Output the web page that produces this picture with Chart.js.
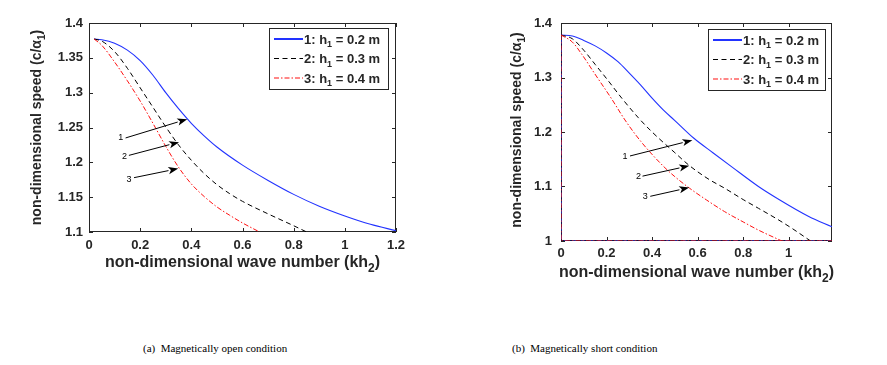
<!DOCTYPE html>
<html>
<head>
<meta charset="utf-8">
<script src="https://cdn.jsdelivr.net/npm/chart.js@4.4.0/dist/chart.umd.min.js"></script>
<style>
  body{margin:0;background:#fff;width:887px;height:365px;position:relative;overflow:hidden}
  canvas{position:absolute;top:0}
  #ca{left:0}
  #cb{left:440px}
  .cap{position:absolute;top:342px;font:11px "Liberation Serif","Times New Roman",serif;color:#000;white-space:pre}
</style>
</head>
<body>
<canvas id="ca" width="440" height="300"></canvas>
<canvas id="cb" width="447" height="300"></canvas>
<div class="cap" style="left:143px">(a)  Magnetically open condition</div>
<div class="cap" style="left:512px">(b)  Magnetically short condition</div>
<script>
// ---- data ----
const seriesLabels = ['1: h_1 = 0.2 m', '2: h_1 = 0.3 m', '3: h_1 = 0.4 m'];
const xTitle = 'non-dimensional wave number (kh_2)';
const yTitle = 'non-dimensional speed (c/α_1)';

// (a) magnetically open
const openX1 = [0.02,0.05,0.1,0.15,0.2,0.25,0.3,0.35,0.4,0.45,0.5,0.6,0.7,0.8,0.9,1.0,1.1,1.2];
const openY1 = [1.377,1.376,1.371,1.361,1.346,1.325,1.300,1.277,1.256,1.238,1.222,1.196,1.174,1.154,1.137,1.123,1.111,1.102];
const openX2 = [0.02,0.05,0.1,0.15,0.2,0.25,0.3,0.35,0.4,0.45,0.5,0.55,0.6,0.7,0.8,0.851];
const openY2 = [1.377,1.374,1.359,1.335,1.307,1.279,1.251,1.225,1.203,1.184,1.168,1.155,1.144,1.126,1.109,1.100];
const openX3 = [0.02,0.05,0.1,0.15,0.2,0.25,0.3,0.35,0.4,0.45,0.5,0.55,0.6,0.667];
const openY3 = [1.377,1.368,1.344,1.317,1.288,1.256,1.223,1.193,1.169,1.151,1.136,1.124,1.113,1.100];

// (b) magnetically short
const shortX1 = [0,0.05,0.1,0.15,0.2,0.25,0.3,0.35,0.4,0.45,0.5,0.585,0.667,0.75,0.867,0.95,1.088,1.19];
const shortY1 = [1.378,1.376,1.368,1.358,1.345,1.329,1.308,1.286,1.262,1.240,1.221,1.188,1.162,1.136,1.100,1.078,1.045,1.026];
const shortX2 = [0,0.05,0.1,0.15,0.2,0.267,0.34,0.4,0.5,0.565,0.65,0.718,0.8,0.867,0.95,1.015,1.096];
const shortY2 = [1.378,1.371,1.350,1.324,1.298,1.262,1.226,1.200,1.162,1.138,1.113,1.097,1.076,1.060,1.040,1.023,1.000];
const shortX3 = [0,0.05,0.089,0.148,0.222,0.281,0.35,0.45,0.5,0.564,0.64,0.718,0.8,0.867,0.97];
const shortY3 = [1.378,1.365,1.344,1.307,1.261,1.222,1.183,1.137,1.118,1.097,1.075,1.054,1.035,1.020,1.000];
// trivial branch running up the left edge and along c/α1 = 1
const shortEdgeX = [0, 0, 1.19];
const shortEdgeY = [1.378, 1.0, 1.0];

// axis ticks
const openXTicks = {min:0, max:1.2, step:0.2};
const openYTicks = {min:1.1, max:1.4, step:0.05};
const shortXTicks = {min:0, max:1.19, step:0.2};
const shortYTicks = {min:1.0, max:1.4, step:0.1};

// arrow annotations: label position, arrow tail, arrow tip (data units)
const openArrowLabels = [[0.124,1.236],[0.139,1.209],[0.156,1.175]];
const openArrowTails  = [[0.143,1.235],[0.156,1.210],[0.176,1.178]];
const openArrowTips   = [[0.384,1.262],[0.352,1.229],[0.349,1.191]];
const shortArrowLabels = [[0.281,1.155],[0.340,1.118],[0.370,1.081]];
const shortArrowTails  = [[0.303,1.156],[0.358,1.119],[0.392,1.082]];
const shortArrowTips   = [[0.577,1.185],[0.563,1.138],[0.563,1.098]];

// ---- styling ----
const FONT = '"Liberation Sans", Arial, Helvetica, sans-serif';
const AXIS_COL = '#262626';
const styles = [
  {color:'#2233ff', dash:[], width:1.1, legendWidth:2, order:3},
  {color:'#000000', dash:[5,3.5], width:1, legendWidth:1.1, order:2},
  {color:'#ff1111', dash:[5,2,1.5,2], width:1, legendWidth:1.1, order:1}
];

function pts(xs, ys){ return xs.map((x,i)=>({x:x, y:ys[i]})); }
function fmt(v){ return String(+v.toFixed(2)); }

// draws "a_b" style text with one-char subscripts
function richText(ctx, str, x, y, size, align){
  const parts = []; let buf = '';
  for(let i=0;i<str.length;i++){
    if(str[i]==='_'){ if(buf) parts.push({t:buf}); buf=''; parts.push({t:str[i+1], sub:true}); i++; }
    else buf += str[i];
  }
  if(buf) parts.push({t:buf});
  const big = 'bold '+size+'px '+FONT, small = 'bold '+Math.round(size*0.72)+'px '+FONT;
  let w = 0;
  parts.forEach(p=>{ ctx.font = p.sub?small:big; p.w = ctx.measureText(p.t).width; w += p.w; });
  let cx = align==='center' ? x - w/2 : x;
  ctx.textAlign = 'left'; ctx.textBaseline = 'alphabetic';
  parts.forEach(p=>{ ctx.font = p.sub?small:big; ctx.fillText(p.t, cx, p.sub ? y+size*0.3 : y); cx += p.w; });
}

// box + inward ticks (MATLAB look)
const framePlugin = {
  id:'frame',
  beforeDatasetsDraw(chart){
    const {ctx, chartArea:a, scales:{x, y}} = chart;
    ctx.save();
    ctx.strokeStyle = AXIS_COL; ctx.lineWidth = 1;
    ctx.strokeRect(a.left+0.5, a.top+0.5, a.right-a.left-1, a.bottom-a.top-1);
    ctx.beginPath();
    x.ticks.forEach(t=>{ const px = Math.round(x.getPixelForValue(t.value))+0.5;
      ctx.moveTo(px, a.bottom); ctx.lineTo(px, a.bottom-4);
      ctx.moveTo(px, a.top); ctx.lineTo(px, a.top+4); });
    y.ticks.forEach(t=>{ const py = Math.round(y.getPixelForValue(t.value))+0.5;
      ctx.moveTo(a.left, py); ctx.lineTo(a.left+4, py);
      ctx.moveTo(a.right, py); ctx.lineTo(a.right-4, py); });
    ctx.stroke();
    ctx.restore();
  }
};

// axis titles, arrows, legend
const decorPlugin = {
  id:'decor',
  afterDraw(chart, args, o){
    const {ctx, chartArea:a, scales:{x, y}} = chart;
    ctx.save();
    ctx.fillStyle = AXIS_COL;
    // x title
    richText(ctx, xTitle, (a.left+a.right)/2 + o.xTitleDx, a.bottom + o.xTitleDy, 16, 'center');
    // y title
    ctx.save();
    ctx.translate(o.yTitleX, (a.top+a.bottom)/2 + o.yTitleDy);
    ctx.rotate(-Math.PI/2);
    richText(ctx, yTitle, 0, 5, 14, 'center');
    ctx.restore();

    // arrows
    ctx.strokeStyle = '#000'; ctx.fillStyle = '#000'; ctx.lineWidth = 1;
    o.tips.forEach((tip, i)=>{
      const x0 = x.getPixelForValue(o.tails[i][0]), y0 = y.getPixelForValue(o.tails[i][1]);
      const x1 = x.getPixelForValue(tip[0]), y1 = y.getPixelForValue(tip[1]);
      const ang = Math.atan2(y1-y0, x1-x0), L = 10, H = 3.6;
      const bx = x1 - L*Math.cos(ang), by = y1 - L*Math.sin(ang);
      ctx.beginPath(); ctx.moveTo(x0, y0); ctx.lineTo(bx, by); ctx.stroke();
      ctx.beginPath();
      ctx.moveTo(x1, y1);
      ctx.lineTo(bx + H*Math.sin(ang), by - H*Math.cos(ang));
      ctx.lineTo(bx + 2.5*Math.cos(ang), by + 2.5*Math.sin(ang));
      ctx.lineTo(bx - H*Math.sin(ang), by + H*Math.cos(ang));
      ctx.closePath(); ctx.fill();
      ctx.font = '9px '+FONT; ctx.textAlign = 'center'; ctx.textBaseline = 'middle';
      ctx.fillText(String(i+1), x.getPixelForValue(o.labels[i][0]), y.getPixelForValue(o.labels[i][1]));
    });

    // legend (first three datasets only)
    const bw = o.legendW, bh = 61;
    const bx0 = a.right - o.legendRight - bw, by0 = a.top + o.legendTop;
    ctx.fillStyle = '#fff'; ctx.fillRect(bx0, by0, bw, bh);
    ctx.strokeStyle = AXIS_COL; ctx.lineWidth = 1;
    ctx.strokeRect(Math.round(bx0)+0.5, Math.round(by0)+0.5, bw, bh);
    chart.data.datasets.slice(0, 3).forEach((ds, i)=>{
      const st = styles[i], ly = by0 + 11 + i*19.5;
      ctx.strokeStyle = st.color; ctx.lineWidth = st.legendWidth; ctx.setLineDash(st.dash);
      ctx.beginPath(); ctx.moveTo(bx0+5, ly); ctx.lineTo(bx0+34, ly); ctx.stroke();
      ctx.setLineDash([]);
      ctx.fillStyle = AXIS_COL;
      richText(ctx, ds.label, bx0+35, ly+4.5, 13, 'left');
    });
    ctx.restore();
  }
};

function lineSet(label, xs, ys, st, smooth){
  return {
    label: label,
    data: pts(xs, ys),
    borderColor: st.color,
    borderDash: st.dash,
    borderWidth: st.width,
    order: st.order,
    showLine: true, pointRadius: 0, fill: false,
    cubicInterpolationMode: smooth ? 'monotone' : 'default',
    tension: 0
  };
}

function makeChart(id, series, edge, xt, yt, lay, decor){
  const datasets = series.map((s, i)=>lineSet(seriesLabels[i], s[0], s[1], styles[i], true));
  if(edge) styles.forEach((st, i)=>datasets.push(lineSet('', edge[0], edge[1], st, false)));
  const tickFont = {family: FONT, size: 13, weight: 'bold'};
  return new Chart(document.getElementById(id), {
    type: 'scatter',
    data: {datasets},
    options: {
      responsive: false, animation: false, devicePixelRatio: 1,
      layout: {padding: {top: lay.top, right: lay.right, left: 0, bottom: 0}},
      plugins: {legend: {display: false}, tooltip: {enabled: false}, decor: decor},
      scales: {
        x: {type: 'linear', min: xt.min, max: xt.max,
            grid: {display: false, drawTicks: false}, border: {display: false},
            ticks: {stepSize: xt.step, includeBounds: false, padding: lay.xPad, color: AXIS_COL, font: tickFont,
                    maxRotation: 0, autoSkip: false, callback: v => fmt(v)},
            afterFit: s => { s.height = lay.xH; }},
        y: {type: 'linear', min: yt.min, max: yt.max,
            grid: {display: false, drawTicks: false}, border: {display: false},
            ticks: {stepSize: yt.step, includeBounds: false, padding: lay.yPad, color: AXIS_COL, font: tickFont,
                    autoSkip: false, callback: v => fmt(v)},
            afterFit: s => { s.width = lay.yW; }}
      }
    },
    plugins: [framePlugin, decorPlugin]
  });
}

makeChart('ca',
  [[openX1, openY1], [openX2, openY2], [openX3, openY3]], null,
  openXTicks, openYTicks,
  {top: 23, right: 44, xH: 68, yW: 89, xPad: 6, yPad: 6},
  {xTitleDx: 0, xTitleDy: 35, yTitleX: 36, yTitleDy: 0, legendW: 119, legendRight: 8, legendTop: 5,
   labels: openArrowLabels, tails: openArrowTails, tips: openArrowTips});

makeChart('cb',
  [[shortX1, shortY1], [shortX2, shortY2], [shortX3, shortY3]], [shortEdgeX, shortEdgeY],
  shortXTicks, shortYTicks,
  {top: 23, right: 55, xH: 59, yW: 121, xPad: 5, yPad: 9},
  {xTitleDx: 0, xTitleDy: 36, yTitleX: 76, yTitleDy: -2, legendW: 117, legendRight: 7, legendTop: 6,
   labels: shortArrowLabels, tails: shortArrowTails, tips: shortArrowTips});
</script>
</body>
</html>
